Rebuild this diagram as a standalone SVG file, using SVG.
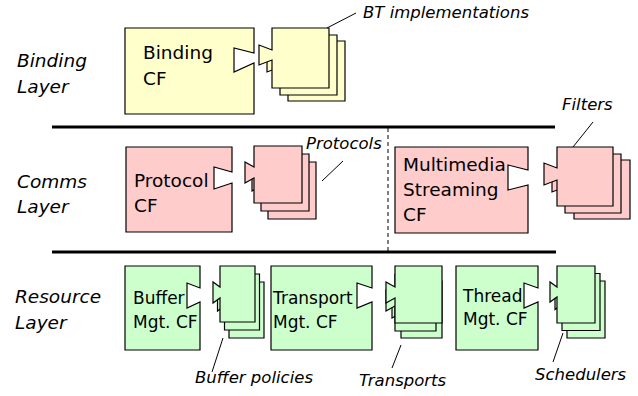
<svg xmlns="http://www.w3.org/2000/svg" width="638" height="396" viewBox="0 0 638 396">
  <style>
    .cf { stroke: #000; stroke-width: 1.2; stroke-linejoin: miter; }
    .card { stroke: #000; stroke-width: 1.2; }
    .yellow { fill: #FFFFCC; }
    .pink { fill: #FFCCCC; }
    .green { fill: #CCFFCC; }
    .name { font-family: "DejaVu Sans", Verdana, sans-serif; font-size: 18.5px; fill: #000; }
    .name-s { font-family: "DejaVu Sans", Verdana, sans-serif; font-size: 17px; fill: #000; }
    .layer { font-family: "DejaVu Sans", Verdana, sans-serif; font-size: 18.5px; font-style: italic; fill: #000; }
    .note { font-family: "DejaVu Sans", Verdana, sans-serif; font-size: 16.5px; font-style: italic; fill: #000; }
    .rule { stroke: #000; stroke-width: 3; fill: none; }
    .divider { stroke: #000; stroke-width: 1; stroke-dasharray: 4 3; fill: none; }
    .leader { stroke: #000; stroke-width: 1; fill: none; }
  </style>

  <rect width="638" height="396" fill="#fff"/>

  <!-- layer titles -->
  <g id="layer-titles">
    <text class="layer" x="17" y="67">Binding</text>
    <text class="layer" x="17" y="93">Layer</text>
    <text class="layer" x="17" y="188">Comms</text>
    <text class="layer" x="17" y="213">Layer</text>
    <text class="layer" x="15" y="303">Resource</text>
    <text class="layer" x="15" y="329">Layer</text>
  </g>

  <!-- layer separators -->
  <g id="separators">
    <line class="rule" x1="52" y1="127" x2="555" y2="127"/>
    <line class="rule" x1="52" y1="252" x2="556" y2="252"/>
    <line class="divider" x1="388" y1="128" x2="388" y2="251"/>
  </g>

  <!-- Binding layer -->
  <g id="binding-cf">
    <path class="cf yellow" d="M125 28 H254 V53 L234 48 V72 L254 63 V114 H125 Z"/>
    <text class="name" x="143" y="59">Binding</text>
    <text class="name" x="143" y="85">CF</text>
  </g>
  <g id="bt-implementations">
    <path class="card yellow" d="M288 41 H345 V101 H288 V73 L275 78 V58 L288 63 Z"/>
    <path class="card yellow" d="M280 35 H337 V95 H280 V67 L267 72 V52 L280 57 Z"/>
    <path class="card yellow" d="M272 28 H329 V88 H272 V60 L259 65 V45 L272 50 Z"/>
    <text class="note" x="363" y="18">BT implementations</text>
  </g>

  <!-- Comms layer -->
  <g id="protocol-cf">
    <path class="cf pink" d="M126 147 H232 V172 L214 167 V189 L232 183 V232 H126 Z"/>
    <text class="name" x="134" y="187">Protocol</text>
    <text class="name" x="134" y="212">CF</text>
  </g>
  <g id="protocols">
    <path class="card pink" d="M268 162 H316 V219 H268 V194 L259 199 V178 L268 183 Z"/>
    <path class="card pink" d="M261 154 H309 V211 H261 V186 L252 191 V170 L261 175 Z"/>
    <path class="card pink" d="M254 146 H302 V203 H254 V178 L245 183 V162 L254 167 Z"/>
    <text class="note" x="306" y="149">Protocols</text>
  </g>
  <g id="multimedia-streaming-cf">
    <path class="cf pink" d="M395 147 H528 V170 L508 165 V190 L528 185 V233 H395 Z"/>
    <text class="name" x="403" y="171">Multimedia</text>
    <text class="name" x="403" y="196">Streaming</text>
    <text class="name" x="403" y="221">CF</text>
  </g>
  <g id="filters">
    <path class="card pink" d="M574 160 H630 V219 H574 V193 L561 198 V176 L574 181 Z"/>
    <path class="card pink" d="M565 154 H621 V213 H565 V187 L552 192 V170 L565 175 Z"/>
    <path class="card pink" d="M557 147 H613 V206 H557 V180 L544 185 V163 L557 168 Z"/>
    <text class="note" x="562" y="110">Filters</text>
  </g>

  <!-- Resource layer -->
  <g id="buffer-mgt-cf">
    <path class="cf green" d="M125 266 H200 V288 L187 283 V308 L200 302 V350 H125 Z"/>
    <text class="name-s" x="133" y="304">Buffer</text>
    <text class="name-s" x="133" y="328">Mgt. CF</text>
  </g>
  <g id="buffer-policies">
    <path class="card green" d="M229 282 H264 V338 H229 V314 L222 319 V298 L229 303 Z"/>
    <path class="card green" d="M224.5 274 H259.5 V330 H224.5 V306 L217.5 311 V290 L224.5 295 Z"/>
    <path class="card green" d="M220 266 H255 V322 H220 V298 L213 303 V282 L220 287 Z"/>
    <text class="note" x="195" y="383">Buffer policies</text>
  </g>
  <g id="transport-mgt-cf">
    <path class="cf green" d="M271 266 H372 V288 L357 283 V308 L372 302 V350 H271 Z"/>
    <text class="name-s" x="273" y="304">Transport</text>
    <text class="name-s" x="273" y="328">Mgt. CF</text>
  </g>
  <g id="transports">
    <path class="card green" d="M401 281 H442 V338 H401 V313 L392 318 V297 L401 302 Z"/>
    <path class="card green" d="M395 274 H436 V331 H395 V306 L386 311 V290 L395 295 Z"/>
    <path class="card green" d="M395 266 H442 V323 H395 V298 L386 303 V282 L395 287 Z"/>
    <text class="note" x="359" y="386">Transports</text>
  </g>
  <g id="thread-mgt-cf">
    <path class="cf green" d="M456 266 H538 V288 L524 283 V308 L538 302 V350 H456 Z"/>
    <text class="name-s" x="463" y="302">Thread</text>
    <text class="name-s" x="463" y="325">Mgt. CF</text>
  </g>
  <g id="schedulers">
    <path class="card green" d="M567 281 H605 V338 H567 V312 L560 317 V297 L567 302 Z"/>
    <path class="card green" d="M562 273.5 H600 V330.5 H562 V304.5 L555 309.5 V289.5 L562 294.5 Z"/>
    <path class="card green" d="M557 266 H595 V323 H557 V297 L550 302 V282 L557 287 Z"/>
    <text class="note" x="535" y="380">Schedulers</text>
  </g>

  <!-- label leaders -->
  <g id="connectors">
    <line class="leader" x1="327" y1="28" x2="356" y2="13"/>
    <line class="leader" x1="322" y1="181" x2="343" y2="161"/>
    <line class="leader" x1="573" y1="147" x2="593" y2="122"/>
    <line class="leader" x1="223" y1="338" x2="212" y2="372"/>
    <line class="leader" x1="401" y1="345" x2="392" y2="368"/>
    <line class="leader" x1="563" y1="333" x2="553" y2="362"/>
  </g>
</svg>
